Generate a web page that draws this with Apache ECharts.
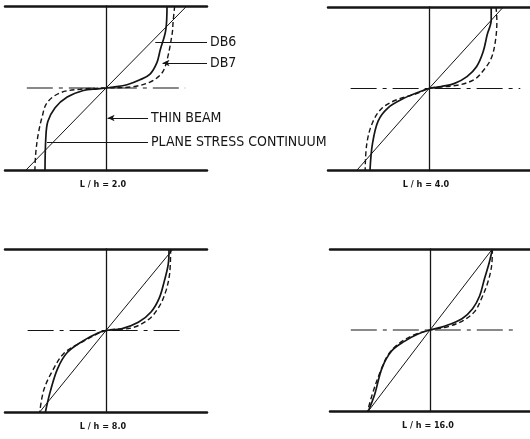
<!DOCTYPE html>
<html>
<head>
<meta charset="utf-8">
<script src="https://cdn.jsdelivr.net/npm/echarts@6/dist/echarts.min.js"></script>
<style>
  html, body { margin: 0; padding: 0; background: #fff; }
  #chart { width: 530px; height: 439px; }
</style>
</head>
<body>
<div id="chart"></div>
<script>
// captions under each panel
const panelLabels = ['L / h = 2.0', 'L / h = 4.0', 'L / h = 8.0', 'L / h = 16.0']

// straight line (thin beam theory) per panel, [stress, depth]
const thinBeam1 = [[-0.99, -1], [0, 0], [1.0, 1]]
const thinBeam2 = [[-0.89, -1], [0, 0], [0.92, 1]]
const thinBeam3 = [[-0.82, -1], [0, 0], [0.83, 1]]
const thinBeam4 = [[-0.77, -1], [0, 0], [0.78, 1]]

// solid curve (DB6)
const db6Curve1 = [[0.755, 1.0], [0.74, 0.71], [0.67, 0.46], [0.63, 0.31], [0.545, 0.17], [0.42, 0.10], [0.26, 0.04], [0.09, 0.01], [0, 0],
  [-0.1, -0.01], [-0.28, -0.03], [-0.48, -0.11], [-0.63, -0.24], [-0.72, -0.41], [-0.745, -0.61], [-0.755, -1.0]]
const db6Curve2 = [[0.77, 1.0], [0.77, 0.84], [0.72, 0.66], [0.67, 0.45], [0.59, 0.27], [0.47, 0.146], [0.31, 0.06], [0.15, 0.024], [0, 0],
  [-0.14, -0.05], [-0.33, -0.13], [-0.51, -0.24], [-0.63, -0.4], [-0.70, -0.68], [-0.73, -1.0]]
const db6Curve3 = [[0.78, 1.0], [0.77, 0.81], [0.72, 0.6], [0.66, 0.4], [0.56, 0.23], [0.4, 0.1], [0.19, 0.02], [0, 0],
  [-0.1, -0.03], [-0.29, -0.13], [-0.48, -0.27], [-0.6, -0.47], [-0.69, -0.75], [-0.75, -1.0]]
const db6Curve4 = [[0.78, 1.0], [0.74, 0.83], [0.68, 0.63], [0.62, 0.42], [0.53, 0.26], [0.40, 0.14], [0.19, 0.05], [0, 0],
  [-0.15, -0.05], [-0.32, -0.14], [-0.48, -0.26], [-0.6, -0.47], [-0.69, -0.79], [-0.77, -1.0]]

// dashed curve (DB7)
const db7Curve1 = [[0.85, 1.0], [0.83, 0.8], [0.82, 0.67], [0.755, 0.34], [0.69, 0.18], [0.545, 0.073], [0.33, 0.015], [0, 0],
  [-0.32, -0.015], [-0.57, -0.06], [-0.73, -0.18], [-0.79, -0.35], [-0.84, -0.57], [-0.87, -0.8], [-0.88, -1.0]]
const db7Curve2 = [[0.83, 1.0], [0.84, 0.82], [0.82, 0.57], [0.77, 0.37], [0.68, 0.23], [0.56, 0.11], [0.35, 0.04], [0, 0],
  [-0.17, -0.07], [-0.38, -0.13], [-0.58, -0.24], [-0.70, -0.42], [-0.77, -0.68], [-0.79, -1.0]]
const db7Curve3 = [[0.8, 1.0], [0.79, 0.72], [0.74, 0.48], [0.65, 0.28], [0.52, 0.13], [0.31, 0.03], [0, 0],
  [-0.31, -0.15], [-0.52, -0.28], [-0.66, -0.49], [-0.77, -0.73], [-0.82, -1.0]]
const db7Curve4 = [[0.78, 1.0], [0.77, 0.79], [0.72, 0.58], [0.64, 0.38], [0.56, 0.23], [0.42, 0.12], [0.22, 0.04], [0, 0],
  [-0.2, -0.06], [-0.38, -0.16], [-0.52, -0.3], [-0.62, -0.51], [-0.72, -0.79], [-0.78, -1.0]]

// dash-dot neutral axis extent
const midLine1 = [[-0.98, 0], [0.98, 0]]
const midLine2 = [[-0.97, 0], [1.13, 0]]
const midLine3 = [[-0.97, 0], [0.98, 0]]
const midLine4 = [[-0.99, 0], [1.07, 0]]

// leader lines of panel 1: [label, arrow tip, line end]
const notes = [
  ['DB6', [0.61, 0.56], [1.25, 0.56]],
  ['DB7', [0.70, 0.305], [1.25, 0.305]],
  ['THIN BEAM', [0.02, -0.366], [0.52, -0.366]],
  ['PLANE STRESS CONTINUUM', [-0.73, -0.66], [0.52, -0.66]]
]

const thinBeams = [thinBeam1, thinBeam2, thinBeam3, thinBeam4]
const db6Curves = [db6Curve1, db6Curve2, db6Curve3, db6Curve4]
const db7Curves = [db7Curve1, db7Curve2, db7Curve3, db7Curve4]
const midLines = [midLine1, midLine2, midLine3, midLine4]

const INK = '#151515'
const layout = [
  { left: 5, top: 6, width: 202, height: 164 },
  { left: 328, top: 7, width: 202, height: 163 },
  { left: 5, top: 249, width: 202, height: 163 },
  { left: 330, top: 249, width: 202, height: 162 }
]

const grid = []
const xAxis = []
const yAxis = []
const series = []
const graphic = []

layout.forEach((g, i) => {
  grid.push(g)
  ;['bottom', 'top'].forEach(pos => {
    xAxis.push({
      gridIndex: i,
      type: 'value',
      position: pos,
      min: -1.25,
      max: 1.25,
      axisLine: { show: true, onZero: false, lineStyle: { color: INK, width: 2.5 } },
      axisTick: { show: false },
      axisLabel: { show: false },
      splitLine: { show: false }
    })
  })
  yAxis.push({
    gridIndex: i,
    type: 'value',
    min: -1,
    max: 1,
    axisLine: { show: true, onZero: true, lineStyle: { color: INK, width: 1.3 } },
    axisTick: { show: false },
    axisLabel: { show: false },
    splitLine: { show: false }
  })
  series.push({
    name: 'mid' + i,
    type: 'line',
    xAxisIndex: i * 2,
    yAxisIndex: i,
    data: midLines[i],
    symbol: 'none',
    silent: true,
    lineStyle: { color: INK, width: 1.2, type: [26, 6, 4, 6] }
  })
  series.push({
    name: 'thin' + i,
    type: 'line',
    xAxisIndex: i * 2,
    yAxisIndex: i,
    data: thinBeams[i],
    symbol: 'none',
    silent: true,
    lineStyle: { color: INK, width: 1 }
  })
  series.push({
    name: 'db6_' + i,
    type: 'line',
    xAxisIndex: i * 2,
    yAxisIndex: i,
    data: db6Curves[i],
    symbol: 'none',
    smooth: 0.35,
    silent: true,
    lineStyle: { color: INK, width: 1.7 }
  })
  series.push({
    name: 'db7_' + i,
    type: 'line',
    xAxisIndex: i * 2,
    yAxisIndex: i,
    data: db7Curves[i],
    symbol: 'none',
    smooth: 0.35,
    silent: true,
    lineStyle: { color: INK, width: 1.4, type: [5, 3] }
  })
  graphic.push({
    type: 'text',
    x: g.left + g.width / 2 - 3,
    y: g.top + g.height + 15,
    style: {
      text: panelLabels[i],
      fill: INK,
      font: 'bold 9px "DejaVu Sans Condensed"',
      align: 'center',
      verticalAlign: 'middle'
    }
  })
})

// leader lines with their labels, in the first panel
series[1].markLine = {
  silent: true,
  animation: false,
  symbol: ['none', 'none'],
  lineStyle: { color: INK, width: 1, type: 'solid' },
  label: {
    show: true,
    position: 'end',
    distance: 3,
    color: INK,
    fontSize: 14,
    fontFamily: 'DejaVu Sans Condensed',
    formatter: p => p.name
  },
  data: notes.map((n, k) => [
    { name: n[0], coord: n[1], symbol: (k === 1 || k === 2) ? 'arrow' : 'none', symbolSize: [5, 7] },
    { name: n[0], coord: n[2] }
  ])
}

const chart = echarts.init(document.getElementById('chart'))
chart.setOption({
  backgroundColor: '#fff',
  animation: false,
  grid: grid,
  xAxis: xAxis,
  yAxis: yAxis,
  series: series,
  graphic: graphic
})
</script>
</body>
</html>
